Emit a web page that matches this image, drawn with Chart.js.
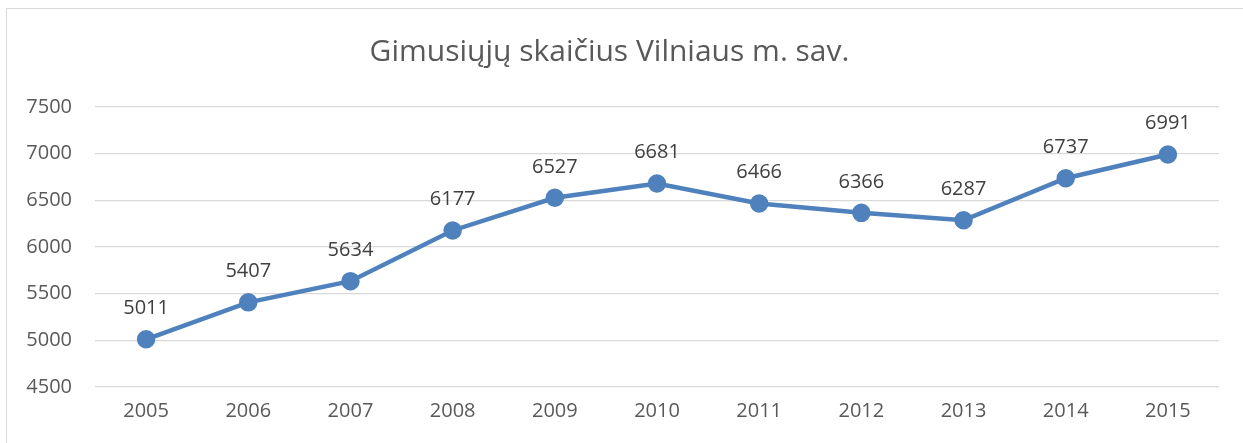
<!DOCTYPE html>
<html>
<head>
<meta charset="utf-8">
<script src="https://cdn.jsdelivr.net/npm/chart.js@4"></script>
<style>
  html, body { margin: 0; padding: 0; background: #fff; overflow: hidden; }
  #wrap { position: relative; width: 1243px; height: 443px; }
  #frame { position: absolute; left: 6px; top: 8px; width: 1300px; height: 500px;
           border: 1.5px solid #d9d9d9; pointer-events: none; }
</style>
</head>
<body>
<div id="wrap">
  <canvas id="myChart" width="1243" height="443"></canvas>
  <div id="frame"></div>
</div>
<script>
const years = ['2005', '2006', '2007', '2008', '2009', '2010', '2011', '2012', '2013', '2014', '2015'];
const births = [5011, 5407, 5634, 6177, 6527, 6681, 6466, 6366, 6287, 6737, 6991];
const yTicks = [4500, 5000, 5500, 6000, 6500, 7000, 7500];

// value labels above each point
const pointLabels = {
    id: 'pointLabels',
    afterDatasetsDraw(chart) {
        const ctx = chart.ctx;
        const meta = chart.getDatasetMeta(0);
        ctx.save();
        ctx.font = '20px "Open Sans"';
        ctx.fillStyle = '#404040';
        ctx.textAlign = 'center';
        ctx.textBaseline = 'middle';
        meta.data.forEach((pt, i) => {
            ctx.fillText(births[i], pt.x, pt.y - 31);
        });
        ctx.restore();
    }
};

Chart.defaults.font.family = '"Open Sans"';
Chart.defaults.color = '#595959';

const myChart = new Chart(
    document.getElementById('myChart'),
    {
        type: 'line',
        data: {
            labels: years,
            datasets: [
                {
                    label: 'Gimusiųjų skaičius',
                    data: births,
                    borderColor: '#4f81bd',
                    backgroundColor: '#4f81bd',
                    borderWidth: 4.5,
                    pointRadius: 7,
                    pointHoverRadius: 7,
                    tension: 0,
                },
            ]
        },
        options: {
            responsive: false,
            animation: false,
            layout: {
                padding: { left: 0, right: 24, top: 0, bottom: 0 }
            },
            plugins: {
                legend: { display: false },
                tooltip: { enabled: false },
                title: {
                    display: true,
                    text: 'Gimusiųjų skaičius Vilniaus m. sav.',
                    color: '#595959',
                    font: { size: 30, weight: 'normal', lineHeight: 1.2 },
                    padding: { top: 34, bottom: 37 }
                }
            },
            scales: {
                x: {
                    offset: true,
                    grid: { display: false, drawTicks: false },
                    border: { display: false },
                    ticks: { padding: 12, font: { size: 20 }, color: '#595959' },
                    afterFit(scale) { scale.height = 56; }
                },
                y: {
                    min: yTicks[0],
                    max: yTicks[yTicks.length - 1],
                    afterBuildTicks(scale) { scale.ticks = yTicks.map(v => ({ value: v })); },
                    grid: { color: '#d9d9d9', lineWidth: 1.3, drawTicks: false },
                    border: { display: false },
                    ticks: {
                        padding: 23,
                        font: { size: 20 },
                        color: '#595959',
                        callback: v => String(v)
                    },
                    afterFit(scale) { scale.width = 95; }
                }
            }
        },
        plugins: [pointLabels]
    }
);
</script>
</body>
</html>
